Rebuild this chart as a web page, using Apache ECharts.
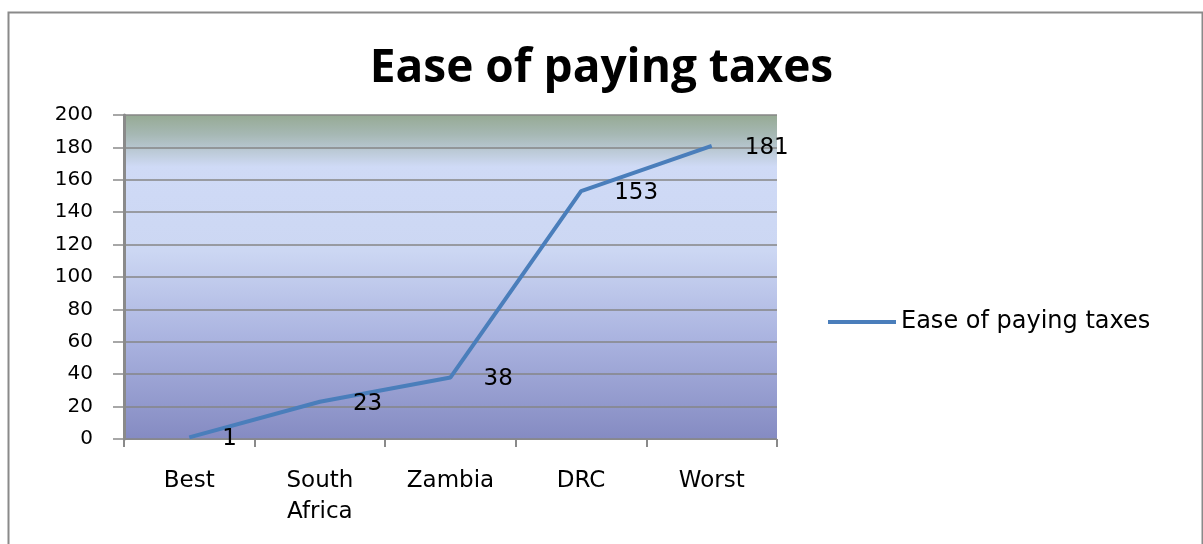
<!DOCTYPE html>
<html><head><meta charset="utf-8">
<script src="https://cdn.jsdelivr.net/npm/echarts@6/dist/echarts.min.js"></script>
<style>html,body{margin:0;padding:0;background:#fff}#c{width:1203px;height:544px}</style>
</head><body><div id="c"></div>
<script>
const categories = ['Best', 'South\nAfrica', 'Zambia', 'DRC', 'Worst'];
const values = [1, 23, 38, 153, 181];
const seriesName = 'Ease of paying taxes';
const titleText = 'Ease of paying taxes';

const chart = echarts.init(document.getElementById('c'));
const font = 'DejaVu Sans';
chart.setOption({
  backgroundColor: '#ffffff',
  animation: false,
  graphic: [{
    type: 'rect', left: 6, top: 10, z: -10,
    shape: { width: 1194, height: 560 },
    style: { fill: 'none', stroke: '#8a8a8a', lineWidth: 2 }
  }],
  title: {
    text: titleText, left: 'center', top: 41,
    textStyle: { fontFamily: 'Open Sans', fontWeight: 'bold', fontSize: 46, color: '#000' }
  },
  legend: {
    left: 823, top: 305, itemWidth: 68, itemHeight: 4, itemGap: 6,
    icon: 'rect',
    textStyle: { fontFamily: font, fontSize: 24, color: '#000' }
  },
  grid: {
    left: 124, right: 426, top: 115, bottom: 105,
    show: true, borderWidth: 0,
    backgroundColor: new echarts.graphic.LinearGradient(0, 0, 0, 1, [
      { offset: 0, color: '#96aa94' },
      { offset: 0.06, color: '#a6b8b4' },
      { offset: 0.16, color: '#cfdaf6' },
      { offset: 0.42, color: '#ccd7f3' },
      { offset: 0.7, color: '#a9b2df' },
      { offset: 1, color: '#858bc2' }
    ])
  },
  xAxis: {
    type: 'category', data: categories, boundaryGap: true,
    axisLine: { show: true, lineStyle: { color: '#8a8a8a', width: 1 } },
    axisTick: { show: true, length: 8, interval: 0, lineStyle: { color: '#8a8a8a', width: 2 } },
    axisLabel: { fontFamily: font, fontSize: 23, color: '#000', margin: 27, lineHeight: 31, interval: 0 }
  },
  yAxis: {
    type: 'value', min: 0, max: 200, interval: 20,
    axisLine: { show: true, lineStyle: { color: '#8a8a8a', width: 3 } },
    axisTick: { show: true, length: 11, lineStyle: { color: '#8a8a8a', width: 1.5 } },
    axisLabel: { margin: 31, fontFamily: font, fontSize: 20, color: '#000' },
    splitLine: { show: true, lineStyle: { color: '#868686', width: 1.5 } }
  },
  series: [{
    name: seriesName, type: 'line', data: values,
    symbol: 'circle', symbolSize: 0.1, showSymbol: true,
    lineStyle: { color: '#4a7ebb', width: 4 },
    itemStyle: { color: '#4a7ebb' },
    label: {
      show: true, position: 'right', distance: 33, offset: [0, 2],
      fontFamily: font, fontSize: 23, color: '#000'
    }
  }]
});
</script></body></html>
